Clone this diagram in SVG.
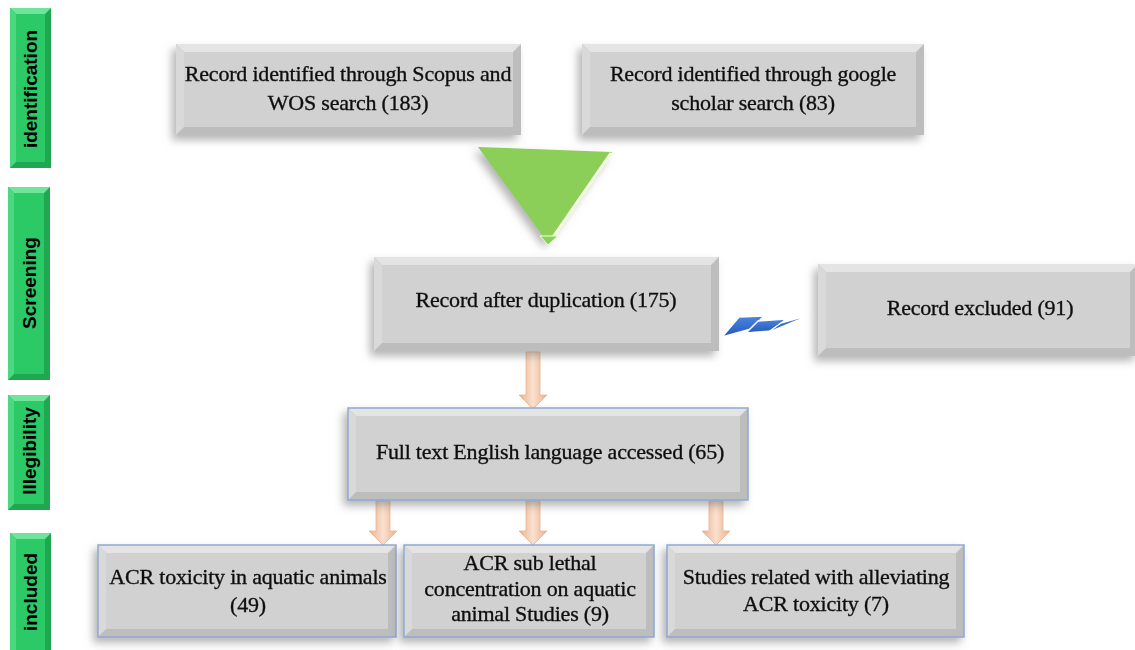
<svg xmlns="http://www.w3.org/2000/svg" width="1135" height="650" viewBox="0 0 1135 650">
<defs>
<style>
.t{font-family:"Liberation Serif","Times New Roman",serif;font-size:22px;fill:#111;stroke:#111;stroke-width:0.35;text-anchor:middle;letter-spacing:-0.2px}
.s{font-family:"Liberation Sans",Arial,sans-serif;font-size:19px;font-weight:bold;fill:#000;text-anchor:middle}
.base{fill:#bdbdbd}
.top{fill:#e4e4e4}
.left{fill:#d9d9d9}
.face{fill:#d1d1d1}
.bl{fill:none;stroke:#8fa9d4;stroke-width:1.5}
.gbase{fill:#1fa850}
.gtop{fill:#6fe49a}
.gleft{fill:#4bd880}
.gface{fill:#2cc967}
.arr{fill:url(#og);stroke:#e8b48f;stroke-width:0.8}
.bolt{fill:url(#bg);stroke:#fff;stroke-width:1.5;stroke-linejoin:round}
</style>
<filter id="sh" x="-10%" y="-20%" width="120%" height="150%">
<feDropShadow dx="-4" dy="5" stdDeviation="4" flood-color="#777" flood-opacity="0.55"/>
</filter>
<linearGradient id="og" x1="0" y1="0" x2="1" y2="0">
<stop offset="0" stop-color="#e9b08a"/>
<stop offset="0.5" stop-color="#fbe1cf"/>
<stop offset="1" stop-color="#e9b08a"/>
</linearGradient>
<linearGradient id="bg" x1="0" y1="0" x2="0" y2="1">
<stop offset="0" stop-color="#4a86e0"/>
<stop offset="1" stop-color="#2558b8"/>
</linearGradient>
</defs>

<g id="stage-identification">
<rect x="10" y="8" width="41" height="160" class="gbase"/>
<polygon points="10,8 51,8 45,14 16,14" class="gtop"/>
<polygon points="10,8 16,14 16,162 10,168" class="gleft"/>
<rect x="16" y="14" width="29" height="148" class="gface"/>
<text class="s" transform="translate(37,89) rotate(-90)">identification</text>
</g>
<g id="stage-screening">
<rect x="8" y="187" width="42" height="193" class="gbase"/>
<polygon points="8,187 50,187 44,193 14,193" class="gtop"/>
<polygon points="8,187 14,193 14,374 8,380" class="gleft"/>
<rect x="14" y="193" width="30" height="181" class="gface"/>
<text class="s" transform="translate(36,283) rotate(-90)">Screening</text>
</g>
<g id="stage-illegibility">
<rect x="8" y="395" width="42" height="115" class="gbase"/>
<polygon points="8,395 50,395 44,401 14,401" class="gtop"/>
<polygon points="8,395 14,401 14,504 8,510" class="gleft"/>
<rect x="14" y="401" width="30" height="103" class="gface"/>
<text class="s" transform="translate(36,451) rotate(-90)">Illegibility</text>
</g>
<g id="stage-included">
<rect x="10" y="533" width="41" height="120" class="gbase"/>
<polygon points="10,533 51,533 45,539 16,539" class="gtop"/>
<polygon points="10,533 16,539 16,653 10,653" class="gleft"/>
<rect x="16" y="539" width="29" height="114" class="gface"/>
<text class="s" transform="translate(37,592) rotate(-90)">included</text>
</g>

<g id="connectors">
<g filter="url(#sh)">
<polygon points="478,147 612,152 548,243" fill="#8ccf58"/>
</g>
<polyline points="611,153 551,240" fill="none" stroke="#f4ffe0" stroke-width="3"/>
<polygon points="540,236 558,236 548,245" fill="#8ccf58" stroke="#f4ffe0" stroke-width="1"/>
<path class="arr" d="M526,352 H540 V395 H547 L533,409 L519,395 H526 Z"/>
<path class="arr" d="M376,501 H390 V531 H397 L383,545 L369,531 H376 Z"/>
<path class="arr" d="M526,501 H540 V531 H547 L533,545 L519,531 H526 Z"/>
<path class="arr" d="M709,501 H723 V531 H730 L716,545 L702,531 H709 Z"/>
<g id="bolt">
<polygon class="bolt" points="722,337 739,317 764,316 751,329"/>
<polygon class="bolt" points="746,333 758,321 786,319 772,331"/>
<polygon class="bolt" points="767,333 781,323 813,314"/>
</g>
</g>

<g id="box-scopus" filter="url(#sh)">
<rect x="176" y="44" width="345" height="91" class="base"/>
<polygon points="176,44 521,44 513,52 184,52" class="top"/>
<polygon points="176,44 184,52 184,127 176,135" class="left"/>
<rect x="184" y="52" width="329" height="75" class="face"/>
<text class="t" x="348" y="81">Record identified through Scopus and</text>
<text class="t" x="348" y="110">WOS search (183)</text>
</g>
<g id="box-google" filter="url(#sh)">
<rect x="582" y="44" width="342" height="91" class="base"/>
<polygon points="582,44 924,44 916,52 590,52" class="top"/>
<polygon points="582,44 590,52 590,127 582,135" class="left"/>
<rect x="590" y="52" width="326" height="75" class="face"/>
<text class="t" x="753" y="81">Record identified through google</text>
<text class="t" x="753" y="110">scholar search (83)</text>
</g>
<g id="box-duplication" filter="url(#sh)">
<rect x="374" y="257" width="345" height="94" class="base"/>
<polygon points="374,257 719,257 711,265 382,265" class="top"/>
<polygon points="374,257 382,265 382,343 374,351" class="left"/>
<rect x="382" y="265" width="329" height="78" class="face"/>
<text class="t" x="546" y="307">Record after duplication (175)</text>
</g>
<g id="box-excluded" filter="url(#sh)">
<rect x="818" y="264" width="320" height="92" class="base"/>
<polygon points="818,264 1138,264 1130,272 826,272" class="top"/>
<polygon points="818,264 826,272 826,348 818,356" class="left"/>
<rect x="826" y="272" width="304" height="76" class="face"/>
<text class="t" x="980" y="315">Record excluded (91)</text>
</g>
<g id="box-fulltext" filter="url(#sh)">
<rect x="348" y="408" width="400" height="92" class="base"/>
<polygon points="348,408 748,408 740,416 356,416" class="top"/>
<polygon points="348,408 356,416 356,492 348,500" class="left"/>
<rect x="356" y="416" width="384" height="76" class="face"/>
<rect x="348" y="408" width="400" height="92" class="bl"/>
<text class="t" x="550" y="459">Full text English language accessed (65)</text>
</g>
<g id="box-toxicity" filter="url(#sh)">
<rect x="98" y="545" width="298" height="92" class="base"/>
<polygon points="98,545 396,545 388,553 106,553" class="top"/>
<polygon points="98,545 106,553 106,629 98,637" class="left"/>
<rect x="106" y="553" width="282" height="76" class="face"/>
<rect x="98" y="545" width="298" height="92" class="bl"/>
<text class="t" x="248" y="584">ACR toxicity in aquatic animals</text>
<text class="t" x="248" y="612">(49)</text>
</g>
<g id="box-sublethal" filter="url(#sh)">
<rect x="404" y="545" width="250" height="92" class="base"/>
<polygon points="404,545 654,545 646,553 412,553" class="top"/>
<polygon points="404,545 412,553 412,629 404,637" class="left"/>
<rect x="412" y="553" width="234" height="76" class="face"/>
<rect x="404" y="545" width="250" height="92" class="bl"/>
<text class="t" x="530" y="570">ACR sub lethal</text>
<text class="t" x="530" y="596">concentration on aquatic</text>
<text class="t" x="530" y="621">animal Studies (9)</text>
</g>
<g id="box-alleviating" filter="url(#sh)">
<rect x="667" y="545" width="297" height="92" class="base"/>
<polygon points="667,545 964,545 956,553 675,553" class="top"/>
<polygon points="667,545 675,553 675,629 667,637" class="left"/>
<rect x="675" y="553" width="281" height="76" class="face"/>
<rect x="667" y="545" width="297" height="92" class="bl"/>
<text class="t" x="816" y="584">Studies related with alleviating</text>
<text class="t" x="816" y="611">ACR toxicity (7)</text>
</g>
</svg>
